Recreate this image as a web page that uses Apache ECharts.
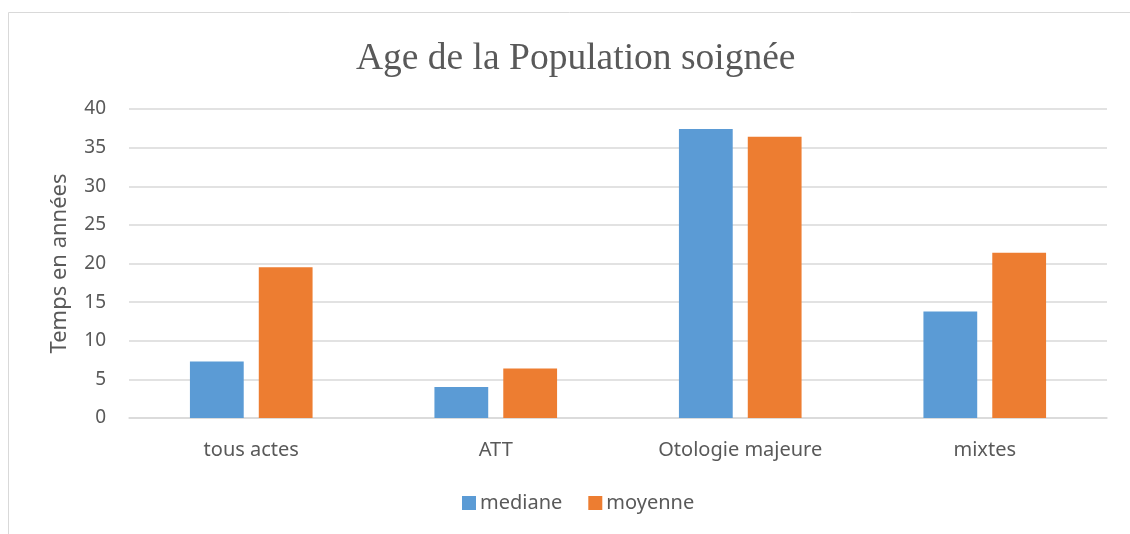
<!DOCTYPE html>
<html><head><meta charset="utf-8">
<script src="https://cdn.jsdelivr.net/npm/echarts@6/dist/echarts.min.js"></script>
<style>html,body{margin:0;padding:0;background:#fff}#c{width:1130px;height:534px}</style>
</head><body><div id="c"></div>
<script>
const categories = ["tous actes", "ATT", "Otologie majeure", "mixtes"];
const mediane = [7.3, 4.0, 37.4, 13.8];
const moyenne = [19.5, 6.4, 36.4, 21.4];
const yTicks = {min: 0, max: 40, interval: 5};

const chart = echarts.init(document.getElementById('c'));
const txt = '#595959';
const font = 'Noto Sans';
chart.setOption({
  animation: false,
  graphic: [{type: 'rect', shape: {x: 8.5, y: 12.5, width: 1200, height: 600}, style: {fill: 'none', stroke: '#d9d9d9', lineWidth: 1}, silent: true, z: -10}],
  title: {text: 'Age de la Population soignée', left: 351, top: 35,
    textStyle: {fontFamily: 'Liberation Serif', fontSize: 37.5, fontWeight: 'normal', color: txt}},
  legend: {data: ['mediane', 'moyenne'], bottom: 16, left: 457, itemWidth: 14, itemHeight: 14, itemGap: 26,
    icon: 'rect', textStyle: {fontFamily: font, fontSize: 20, color: txt, padding: [0, 0, 0, -1]}},
  grid: {left: 129, right: 23, top: 109, bottom: 116},
  xAxis: {type: 'category', data: categories,
    axisLine: {lineStyle: {color: '#d9d9d9', width: 1.5}}, axisTick: {show: false},
    axisLabel: {fontFamily: font, fontSize: 20, color: txt, margin: 22}},
  yAxis: {type: 'value', min: yTicks.min, max: yTicks.max, interval: yTicks.interval,
    name: 'Temps en années', nameLocation: 'middle', nameGap: 58,
    nameTextStyle: {fontFamily: font, fontSize: 22, color: txt},
    axisLine: {show: false}, axisTick: {show: false},
    splitLine: {lineStyle: {color: '#d9d9d9', width: 1.5}},
    axisLabel: {fontFamily: font, fontSize: 19, color: txt, margin: 23}},
  series: [
    {name: 'mediane', type: 'bar', data: mediane, barWidth: '22%', barGap: '28%', itemStyle: {color: '#5B9BD5'}},
    {name: 'moyenne', type: 'bar', data: moyenne, barWidth: '22%', barGap: '28%', itemStyle: {color: '#ED7D31'}}
  ]
});
</script></body></html>
